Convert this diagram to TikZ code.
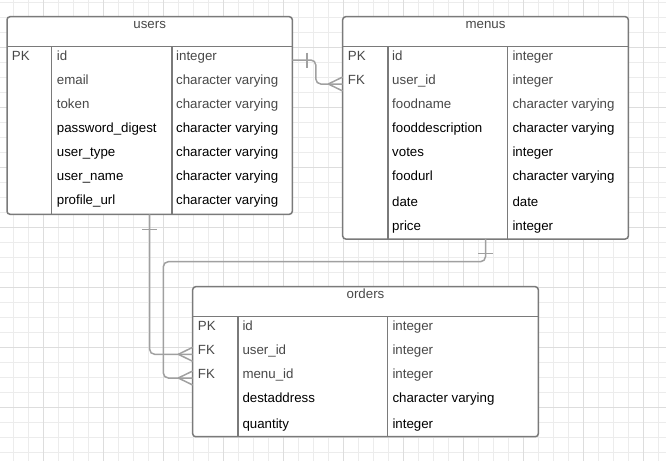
\documentclass[tikz,border=0pt]{standalone}
\usepackage{fontspec}
\setmainfont{Liberation Sans}
\definecolor{gridminor}{RGB}{236,236,236}
\definecolor{gridmajor}{RGB}{221,221,221}
\definecolor{boxline}{RGB}{122,122,122}
\definecolor{linkline}{RGB}{160,160,160}
\definecolor{softtext}{RGB}{72,72,72}
\tikzset{
  tablebox/.style={draw=boxline, line width=1.5pt, rounded corners=3pt, fill=white, inner sep=0pt, outer sep=0pt},
  divider/.style={draw=boxline, line width=1.5pt},
  cell/.style={anchor=base west, inner sep=0pt},
  tabletitle/.style={anchor=base, inner sep=0pt, text=softtext},
  link/.style={draw=linkline, line width=1.5pt, rounded corners=5pt},
}
\begin{document}
\begin{tikzpicture}[x=1pt, y=-1pt, font=\fontsize{13.3}{16}\selectfont]
\useasboundingbox (0,0) rectangle (666,461);

% background grid
\foreach \x in {13.3,28.3,...,666} \draw[gridminor, line width=1pt] (\x,0) -- (\x,461);
\foreach \y in {2.3,17.3,...,461} \draw[gridminor, line width=1pt] (0,\y) -- (666,\y);
\foreach \x in {43.3,103.3,...,666} \draw[gridmajor, line width=1pt] (\x,0) -- (\x,461);
\foreach \y in {47.3,107.3,...,461} \draw[gridmajor, line width=1pt] (0,\y) -- (666,\y);

% users
\node[tablebox, minimum width=285.3pt, minimum height=197.6pt] (users) at (149.65,115.5) {};
\draw[divider] (7,46.7) -- (292.3,46.7);
\draw[divider] (51.7,46.7) -- (51.7,214.3);
\draw[divider] (172,46.7) -- (172,214.3);
\node[tabletitle] (users-title) at (users.north |- 0,28) {users};
\node[cell, text=softtext] (u-pk) at (11.7,60) {PK};
\foreach \name/\kind/\col [count=\i] in {id/integer/softtext, email/character varying/softtext,
    token/character varying/softtext, password\_digest/character varying/black,
    user\_type/character varying/black, user\_name/character varying/black,
    profile\_url/character varying/black} {
  \node[cell, text=\col] (u-f\i) at (56.7,36+24*\i) {\name};
  \node[cell, text=\col] (u-t\i) at (176,36+24*\i) {\kind};
}

% menus
\node[tablebox, minimum width=285.6pt, minimum height=222.3pt] (menus) at (485.5,127.85) {};
\draw[divider] (342.7,46.7) -- (628.3,46.7);
\draw[divider] (388,46.7) -- (388,239);
\draw[divider] (507.7,46.7) -- (507.7,239);
\node[tabletitle] (menus-title) at (menus.north |- 0,28) {menus};
\node[cell, text=softtext] (m-pk) at (347.7,60) {PK};
\node[cell, text=softtext] (m-fk) at (347.7,84) {FK};
\foreach \y/\name/\kind/\col [count=\i] in {60/id/integer/softtext, 84/user\_id/integer/softtext,
    108/foodname/character varying/softtext, 132/fooddescription/character varying/black,
    156/votes/integer/black, 180/foodurl/character varying/black,
    206/date/date/black, 230/price/integer/black} {
  \node[cell, text=\col] (m-f\i) at (392,\y) {\name};
  \node[cell, text=\col] (m-t\i) at (512.3,\y) {\kind};
}

% orders
\node[tablebox, minimum width=345.6pt, minimum height=150pt] (orders) at (365.5,361.7) {};
\draw[divider] (192.7,316.7) -- (538.3,316.7);
\draw[divider] (238,316.7) -- (238,436.7);
\draw[divider] (387.7,316.7) -- (387.7,436.7);
\node[tabletitle] (orders-title) at (orders.north |- 0,298) {orders};
\node[cell, text=softtext] (o-pk) at (197.7,330.5) {PK};
\node[cell, text=softtext] (o-fk1) at (197.7,354.3) {FK};
\node[cell, text=softtext] (o-fk2) at (197.7,378) {FK};
\foreach \y/\name/\kind/\col [count=\i] in {330.5/id/integer/softtext, 354.3/user\_id/integer/softtext,
    378/menu\_id/integer/softtext, 402/destaddress/character varying/black,
    428/quantity/integer/black} {
  \node[cell, text=\col] (o-f\i) at (242.3,\y) {\name};
  \node[cell, text=\col] (o-t\i) at (392.3,\y) {\kind};
}

% users -- menus
\draw[link] (users.east |- u-pk.base) -- ++(23.5,0) |- (menus.west |- m-fk.base);
\draw[link] ([xshift=14.5pt]users.east |- u-pk.base) ++(0,-7.5) -- ++(0,15);
\draw[link] ([xshift=-14.4pt]menus.west |- m-fk.base) -- ++(14.4,-7)
            ([xshift=-14.4pt]menus.west |- m-fk.base) -- ++(14.4,7);

% users -- orders
\draw[link] (users.south) |- (orders.west |- o-fk1.base);
\draw[link] ([yshift=-15pt]users.south) ++(-7.2,0) -- ++(14.4,0);
\draw[link] ([xshift=-14.4pt]orders.west |- o-fk1.base) -- ++(14.4,-7)
            ([xshift=-14.4pt]orders.west |- o-fk1.base) -- ++(14.4,7);

% menus -- orders
\coordinate (menu-bend) at (163.3,261.7);
\draw[link] (menus.south) |- (menu-bend) |- (orders.west |- o-fk2.base);
\draw[link] ([yshift=-14.3pt]menus.south) ++(-7.2,0) -- ++(14.4,0);
\draw[link] ([xshift=-14.4pt]orders.west |- o-fk2.base) -- ++(14.4,-7)
            ([xshift=-14.4pt]orders.west |- o-fk2.base) -- ++(14.4,7);

\end{tikzpicture}
\end{document}
